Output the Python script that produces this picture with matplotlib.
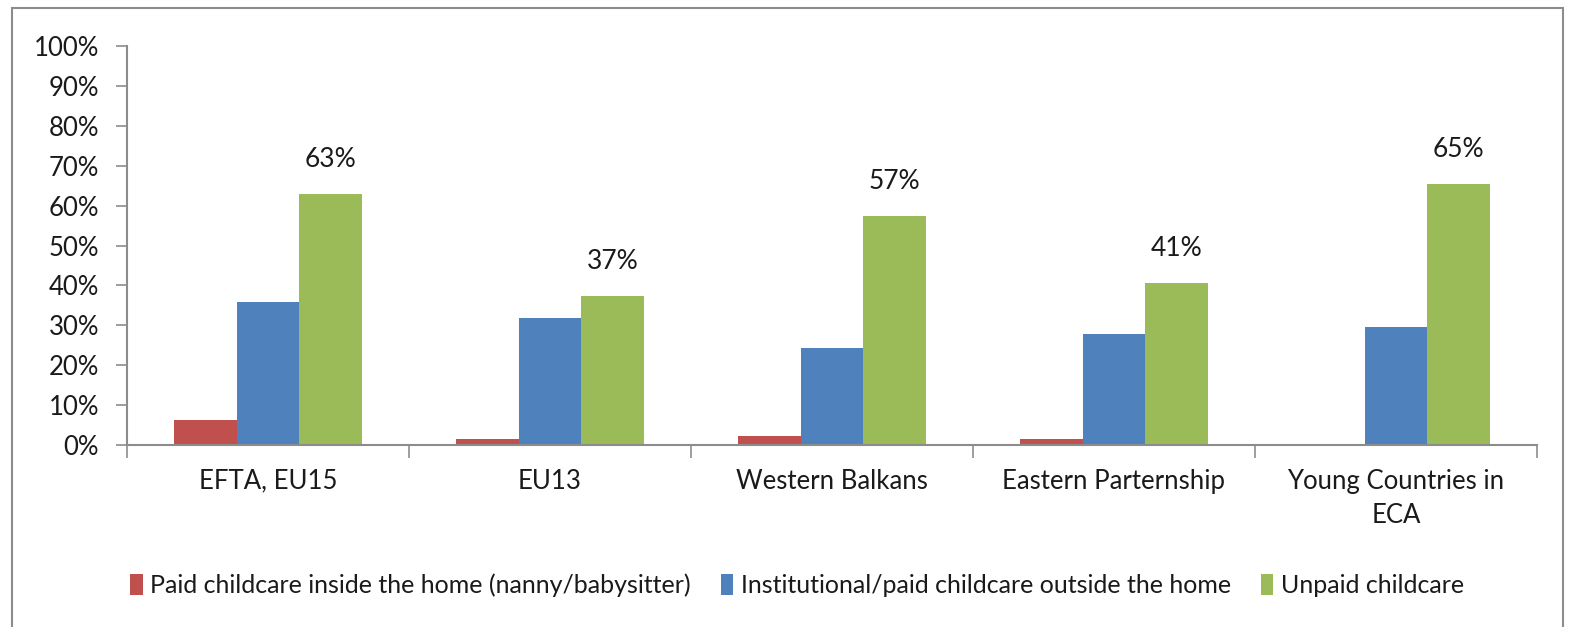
import numpy as np
import matplotlib.pyplot as plt
from matplotlib.patches import Rectangle

categories = ['EFTA, EU15', 'EU13', 'Western Balkans', 'Eastern Parternship',
              'Young Countries in\nECA']
series_names = ['Paid childcare inside the home (nanny/babysitter)',
                'Institutional/paid childcare outside the home',
                'Unpaid childcare']
paid_inside = [6.3, 1.5, 2.3, 1.5, 0.0]
institutional = [35.8, 31.8, 24.3, 27.8, 29.6]
unpaid = [63.0, 37.4, 57.4, 40.7, 65.4]
colors = ['#C0504D', '#4F81BD', '#9BBB59']

plt.rcParams['font.family'] = ['Lato', 'DejaVu Sans']
plt.rcParams['text.color'] = '#1a1a1a'

fig = plt.figure(figsize=(15.69, 6.27), dpi=100)
ax = fig.add_axes([127 / 1569, 1 - 445 / 627, (1537 - 127) / 1569, (445 - 46) / 627])

# outer frame like the excel chart area
fig.patches.append(Rectangle((12 / 1569, -0.05), (1563 - 12) / 1569, 1.05 - 8 / 627,
                             transform=fig.transFigure, fill=False,
                             edgecolor='#8c8c8c', linewidth=1.5))

x = np.arange(len(categories))
w = 1 / 4.5
for i, (vals, c, name) in enumerate(zip([paid_inside, institutional, unpaid], colors, series_names)):
    bars = ax.bar(x + (i - 1) * w, vals, width=w, color=c, label=name)
    if i == 2:
        for b, v in zip(bars, vals):
            ax.text(b.get_x() + b.get_width() / 2, v + 5.5, f'{round(v):.0f}%',
                    ha='center', va='bottom', fontsize=19)

ax.set_xlim(-0.5, len(categories) - 0.5)
ax.set_ylim(0, 100)
ax.set_yticks(np.arange(0, 101, 10))
ax.set_yticklabels([f'{t}%' for t in range(0, 101, 10)])
ax.set_xticks(x)
ax.set_xticklabels(categories, linespacing=1.45)
ax.set_xticks(np.arange(-0.5, len(categories), 1), minor=True)
ax.tick_params(axis='x', which='major', length=0, pad=17, labelsize=18.5, labelcolor='#1a1a1a')
ax.tick_params(axis='x', which='minor', length=9, width=1.2, color='#8c8c8c', direction='out')
ax.tick_params(axis='y', length=8, width=1.2, color='#8c8c8c', labelsize=18.5, pad=12,
               labelcolor='#1a1a1a')
for lbl in ax.get_xticklabels():
    lbl.set_multialignment('center')
for s in ['top', 'right']:
    ax.spines[s].set_visible(False)
for s in ['left', 'bottom']:
    ax.spines[s].set_color('#8c8c8c')
    ax.spines[s].set_linewidth(1.5)

ax.legend(loc='center', bbox_to_anchor=(797 / 1569, 1 - 585 / 627), bbox_transform=fig.transFigure,
          ncol=3, frameon=False, fontsize=18, handlelength=0.5, handleheight=0.9,
          handletextpad=0.3, columnspacing=1.2)

fig.savefig('out.png', dpi=100)
